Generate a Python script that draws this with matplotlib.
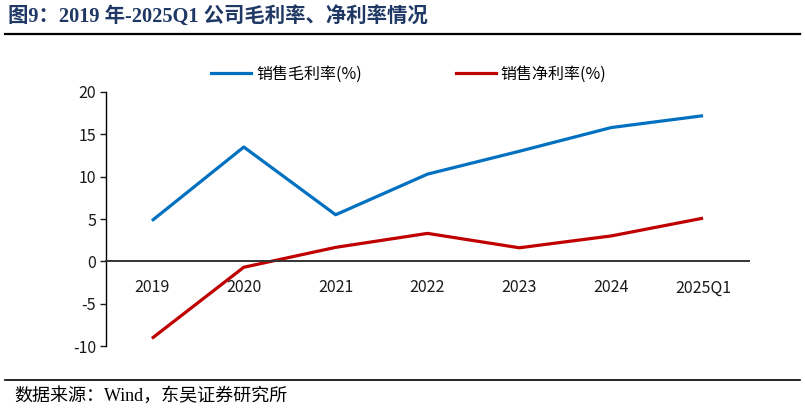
import matplotlib
matplotlib.use("Agg")
import matplotlib.pyplot as plt
from matplotlib.lines import Line2D

categories = ["2019", "2020", "2021", "2022", "2023", "2024", "2025Q1"]
gross_margin = [4.8, 13.5, 5.5, 10.3, 13.0, 15.8, 17.2]
net_margin = [-9.1, -0.7, 1.65, 3.3, 1.6, 3.0, 5.1]
yticks = [-10, -5, 0, 5, 10, 15, 20]
series_names = ["销售毛利率(%)", "销售净利率(%)"]
title = "图9：2019 年-2025Q1 公司毛利率、净利率情况"
source = "数据来源：Wind，东吴证券研究所"

plt.rcParams['font.family'] = ['Noto Sans CJK SC', 'DejaVu Sans']

W, H = 805, 411
fig = plt.figure(figsize=(W / 100, H / 100), dpi=100)

ax = fig.add_axes([106 / W, (H - 346) / H, (749 - 106) / W, (346 - 92) / H])
x = list(range(len(categories)))
ax.plot(x, gross_margin, color="#0070C0", lw=2.3, solid_capstyle="butt")
ax.plot(x, net_margin, color="#C00000", lw=2.3, solid_capstyle="butt")
ax.set_xlim(-0.5, len(categories) - 0.5)
ax.set_ylim(-10, 20)
ax.set_yticks(yticks)
ax.set_yticklabels([str(v) for v in yticks])
ax.set_xticks(x)
ax.set_xticklabels(categories)
for s in ["top", "right"]:
    ax.spines[s].set_visible(False)
ax.spines["bottom"].set_position(("data", 0))
ax.spines["bottom"].set_color("#333333")
ax.spines["bottom"].set_linewidth(1.4)
ax.spines["left"].set_color("#000000")
ax.spines["left"].set_linewidth(1.0)
ax.tick_params(axis="x", length=0, pad=13, labelsize=11.5, colors="#1a1a1a")
ax.tick_params(axis="y", length=4, width=1.0, direction="out", pad=3, labelsize=11.5, colors="#1a1a1a")

handles = [Line2D([], [], color="#0070C0", lw=2.3), Line2D([], [], color="#C00000", lw=2.3)]
leg = fig.legend(handles, series_names, loc="center", bbox_to_anchor=(409 / W, (H - 74) / H),
                 ncol=2, frameon=False, fontsize=11.5, handlelength=2.5, handletextpad=0.3,
                 columnspacing=5.9, borderpad=0, borderaxespad=0)

# Title
fig.text(8 / W, (H - 16) / H, title, fontsize=14.7, fontweight="bold", color="#1F3864",
         va="center", ha="left", family=['Liberation Serif', 'Noto Sans CJK SC'])
fig.add_artist(Line2D([5 / W, 800 / W], [(H - 34) / H] * 2, color="black", lw=1.6))
fig.add_artist(Line2D([5 / W, 800 / W], [(H - 380) / H] * 2, color="black", lw=1.2))
fig.text(14 / W, (H - 396) / H, source, fontsize=13, color="#000000", va="center", ha="left",
         family=['Liberation Serif', 'Noto Sans CJK SC'])

fig.savefig("out.png", dpi=100)
